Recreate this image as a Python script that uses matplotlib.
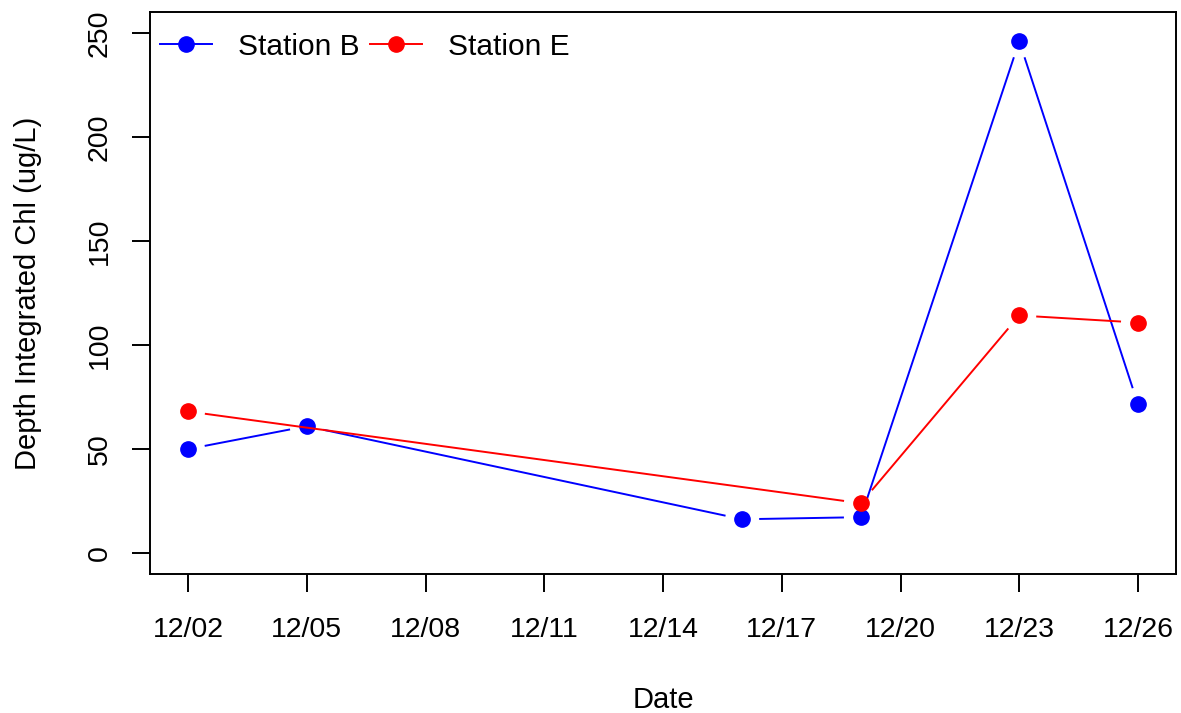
import matplotlib
matplotlib.use("Agg")
import matplotlib.pyplot as plt
import matplotlib.dates as mdates
import numpy as np
import pandas as pd

plt.rcParams["font.family"] = ["Liberation Sans", "DejaVu Sans"]

# depth integrated chlorophyll per sampling date
dates_b = ["2021-12-02", "2021-12-05", "2021-12-16", "2021-12-19", "2021-12-23", "2021-12-26"]
chl_b = [50.0, 61.0, 16.3, 17.3, 246.0, 71.5]
dates_e = ["2021-12-02", "2021-12-19", "2021-12-23", "2021-12-26"]
chl_e = [68.1, 24.0, 114.2, 110.8]

tick_dates = pd.date_range("2021-12-02", "2021-12-26", freq="3D")


def plot_type_b(ax, x, y, color, gap=17, label=None):
    """Points joined by lines that stop short of each point (R type='b')."""
    xn = mdates.date2num(pd.to_datetime(x))
    y = np.asarray(y, dtype=float)
    disp = ax.transData.transform(np.column_stack([xn, y]))
    inv = ax.transData.inverted()
    for p0, p1 in zip(disp[:-1], disp[1:]):
        d = p1 - p0
        length = np.hypot(*d)
        if length <= 2 * gap:
            continue
        u = d / length
        seg = inv.transform(np.array([p0 + u * gap, p1 - u * gap]))
        ax.plot(seg[:, 0], seg[:, 1], color=color, lw=1.4, solid_capstyle="butt")
    ax.plot(xn, y, ls="none", marker="o", ms=11, color=color, mec=color)
    ax.plot([], [], color=color, lw=1.4, marker="o", ms=11, label=label)


fig = plt.figure(figsize=(11.81, 7.13), dpi=100)
ax = fig.add_axes([150 / 1181, 1 - 574 / 713, 1026 / 1181, 562 / 713])

ax.set_xlim(mdates.date2num(pd.Timestamp("2021-12-02")) - 0.96,
            mdates.date2num(pd.Timestamp("2021-12-26")) + 0.96)
ax.set_ylim(-10, 260)

plot_type_b(ax, dates_b, chl_b, "#0000FF", label="Station B")
plot_type_b(ax, dates_e, chl_e, "#FF0000", label="Station E")

ax.set_xticks(mdates.date2num(tick_dates))
ax.xaxis.set_major_formatter(mdates.DateFormatter("%m/%d"))
ax.set_yticks([0, 50, 100, 150, 200, 250])
ax.tick_params(axis="both", direction="out", length=13, width=1.4, labelsize=20.5)
ax.tick_params(axis="x", pad=18)
ax.tick_params(axis="y", pad=14)
for lab in ax.get_yticklabels():
    lab.set_rotation(90)
    lab.set_va("center")
for sp in ax.spines.values():
    sp.set_linewidth(1.4)

ax.set_xlabel("Date", fontsize=21, labelpad=31)
ax.set_ylabel("Depth Integrated Chl (ug/L)", fontsize=21, labelpad=32)

ax.legend(loc="upper left", bbox_to_anchor=(0.001, 0.979), ncol=2, frameon=False,
          fontsize=21.5, handlelength=1.75, columnspacing=0.33, handletextpad=0.87,
          borderaxespad=0, borderpad=0.3)

fig.savefig("out.png", dpi=100)
